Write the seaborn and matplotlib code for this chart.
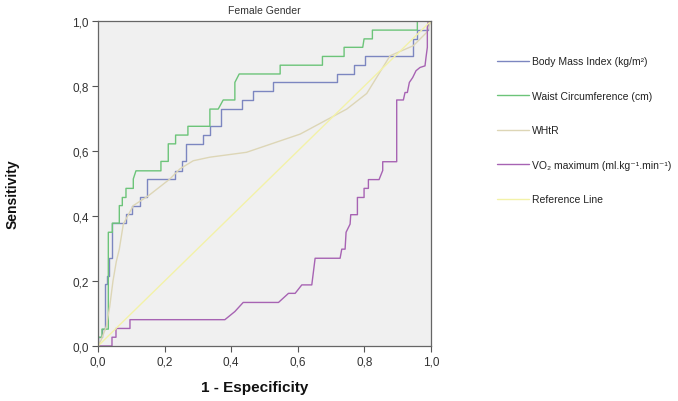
import pandas as pd
import matplotlib
matplotlib.use("Agg")
import matplotlib.pyplot as plt
from matplotlib.ticker import FuncFormatter
import seaborn as sns

# ROC vertices (1 - specificity, sensitivity)
bmi_fpr = [0, 0, 0.012, 0.012, 0.021, 0.021, 0.026, 0.026, 0.034, 0.034, 0.043, 0.043,
           0.083, 0.083, 0.103, 0.103, 0.126, 0.126, 0.146, 0.146, 0.231, 0.231, 0.251, 0.251,
           0.264, 0.264, 0.316, 0.316, 0.336, 0.336, 0.369, 0.369, 0.433, 0.433, 0.464, 0.464,
           0.527, 0.527, 0.717, 0.717, 0.770, 0.770, 0.802, 0.802, 0.947, 0.947, 0.957, 0.957,
           0.992, 0.992, 1]
bmi_tpr = [0, 0.027, 0.027, 0.052, 0.052, 0.19, 0.19, 0.216, 0.216, 0.27, 0.27, 0.38,
           0.38, 0.406, 0.406, 0.43, 0.43, 0.46, 0.46, 0.514, 0.514, 0.54, 0.54, 0.568,
           0.568, 0.622, 0.622, 0.649, 0.649, 0.676, 0.676, 0.729, 0.729, 0.758, 0.758, 0.785,
           0.785, 0.811, 0.811, 0.837, 0.837, 0.865, 0.865, 0.891, 0.891, 0.945, 0.945, 0.972,
           0.972, 1.0, 1.0]

wc_fpr = [0, 0, 0.012, 0.012, 0.031, 0.031, 0.043, 0.043, 0.064, 0.064, 0.073, 0.073,
          0.084, 0.084, 0.106, 0.106, 0.114, 0.189, 0.189, 0.211, 0.211, 0.233, 0.233, 0.27,
          0.27, 0.336, 0.336, 0.361, 0.376, 0.411, 0.411, 0.424, 0.547, 0.547, 0.674, 0.674,
          0.739, 0.739, 0.795, 0.799, 0.824, 0.824, 0.959, 0.959, 1]
wc_tpr = [0, 0.027, 0.027, 0.052, 0.052, 0.35, 0.35, 0.378, 0.378, 0.432, 0.432, 0.457,
          0.457, 0.485, 0.485, 0.514, 0.539, 0.539, 0.568, 0.568, 0.622, 0.622, 0.649, 0.649,
          0.676, 0.676, 0.729, 0.729, 0.757, 0.757, 0.811, 0.837, 0.837, 0.864, 0.864, 0.891,
          0.891, 0.919, 0.919, 0.945, 0.945, 0.972, 0.972, 1.0, 1.0]

whtr_fpr = [0, 0.01, 0.025, 0.035, 0.045, 0.055, 0.064, 0.076, 0.106, 0.151, 0.216, 0.246,
            0.286, 0.336, 0.446, 0.607, 0.747, 0.807, 0.877, 0.947, 0.987, 1]
whtr_tpr = [0, 0.02, 0.06, 0.12, 0.2, 0.26, 0.298, 0.375, 0.432, 0.462, 0.514, 0.545,
            0.57, 0.581, 0.596, 0.652, 0.729, 0.777, 0.893, 0.924, 0.965, 1]

vo2_fpr = [0, 0.042, 0.042, 0.054, 0.054, 0.096, 0.096, 0.381, 0.411, 0.436, 0.542, 0.572,
           0.592, 0.612, 0.642, 0.652, 0.727, 0.732, 0.742, 0.745, 0.757, 0.759, 0.779, 0.779,
           0.799, 0.799, 0.812, 0.812, 0.844, 0.855, 0.855, 0.897, 0.897, 0.917, 0.922, 0.929,
           0.935, 0.945, 0.955, 0.967, 0.982, 0.985, 0.989, 0.989, 0.992, 1]
vo2_tpr = [0, 0, 0.027, 0.027, 0.054, 0.054, 0.081, 0.081, 0.106, 0.134, 0.134, 0.162,
           0.162, 0.188, 0.188, 0.27, 0.27, 0.298, 0.298, 0.35, 0.375, 0.404, 0.404, 0.457,
           0.457, 0.485, 0.485, 0.512, 0.512, 0.54, 0.567, 0.567, 0.757, 0.757, 0.78, 0.78,
           0.811, 0.826, 0.847, 0.857, 0.862, 0.888, 0.919, 0.981, 1.0, 1.0]

ref_fpr = [0, 1]
ref_tpr = [0, 1]

labels = ["Body Mass Index (kg/m²)", "Waist Circumference (cm)", "WHtR",
          "VO₂ maximum (ml.kg⁻¹.min⁻¹)", "Reference Line"]
colors = ["#7c86c0", "#6cc479", "#ddd6b6", "#a763b3", "#f3f2a8"]

curves = [(bmi_fpr, bmi_tpr), (wc_fpr, wc_tpr), (whtr_fpr, whtr_tpr),
          (vo2_fpr, vo2_tpr), (ref_fpr, ref_tpr)]
rows = []
for lab, (xs, ys) in zip(labels, curves):
    for i, (a, b) in enumerate(zip(xs, ys)):
        rows.append({"fpr": a, "tpr": b, "curve": lab, "order": i})
df = pd.DataFrame(rows)

sns.set_theme(style="white")
plt.rcParams["font.family"] = ["Liberation Sans", "DejaVu Sans"]

fig = plt.figure(figsize=(6.78, 4.02), dpi=100)
ax = fig.add_axes([98 / 678, 1 - 347 / 402, 333 / 678, 325 / 402])
ax.set_facecolor("#f0f0f0")

sns.lineplot(data=df, x="fpr", y="tpr", hue="curve", hue_order=labels,
             palette=dict(zip(labels, colors)), sort=False, estimator=None,
             linewidth=1.0, ax=ax, legend=True)

ax.set_xlim(0, 1)
ax.set_ylim(0, 1)
ticks = [0, 0.2, 0.4, 0.6, 0.8, 1.0]
ax.set_xticks(ticks)
ax.set_yticks(ticks)
fmt = FuncFormatter(lambda v, _: f"{v:.1f}".replace(".", ","))
ax.xaxis.set_major_formatter(fmt)
ax.yaxis.set_major_formatter(fmt)
ax.tick_params(axis="both", direction="out", length=4.5, width=0.8, color="#555555",
               labelsize=8.5, labelcolor="#333333", pad=2)
ax.tick_params(axis="x", bottom=True)
ax.tick_params(axis="y", left=True)
for s in ax.spines.values():
    s.set_color("#666666")
    s.set_linewidth(0.9)

ax.set_title("Female Gender", fontsize=7.5, color="#333333", pad=6)
ax.set_xlabel("1 - Especificity", fontsize=11, fontweight="bold", color="#111111")
ax.set_ylabel("Sensitivity", fontsize=10, fontweight="bold", color="#111111")
ax.xaxis.set_label_coords(0.47, -0.105)
ax.yaxis.set_label_coords(-0.235, 0.47)

handles, labs = ax.get_legend_handles_labels()
ax.get_legend().remove()
fig.legend(handles, labs, loc="upper left", bbox_to_anchor=(488 / 678, 1 - 48 / 402),
           frameon=False, fontsize=7.5, handlelength=3.0, handletextpad=0.3,
           labelspacing=2.35, labelcolor="#222222")

fig.savefig("out.png", dpi=100)
